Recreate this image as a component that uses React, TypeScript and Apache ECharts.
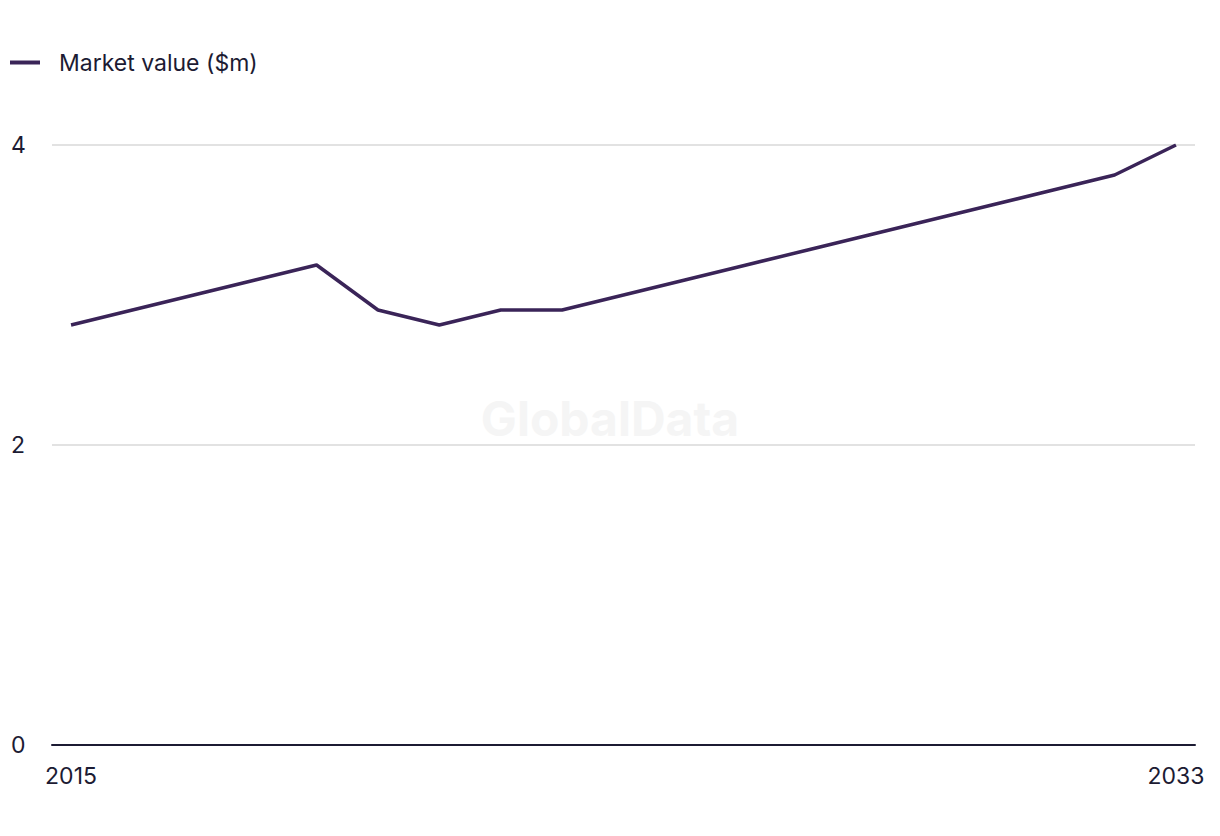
import React, { useEffect, useRef } from "react";
import * as echarts from "echarts";

const years = [2015, 2016, 2017, 2018, 2019, 2020, 2021, 2022, 2023, 2024, 2025, 2026, 2027, 2028, 2029, 2030, 2031, 2032, 2033];
const marketValue = [2.8, 2.9, 3.0, 3.1, 3.2, 2.9, 2.8, 2.9, 2.9, 3.0, 3.1, 3.2, 3.3, 3.4, 3.5, 3.6, 3.7, 3.8, 4.0];
const seriesName = "Market value ($m)";
const xLabelValues = [2015, 2033];
const yTicks = [0, 2, 4];

const FONT = "Inter, 'Liberation Sans', sans-serif";
const TEXT = "#1c1b33";
const LINE = "#3a2458";

export default function App() {
  const ref = useRef<HTMLDivElement>(null);
  useEffect(() => {
    if (!ref.current) return;
    const chart = echarts.init(ref.current, undefined, { renderer: "svg" });
    chart.setOption({
      animation: false,
      backgroundColor: "#ffffff",
      textStyle: { fontFamily: FONT },
      graphic: [
        {
          type: "text",
          left: "center",
          top: 394,
          z: 0,
          style: {
            text: "GlobalData",
            fontFamily: FONT,
            fontSize: 48,
            fontWeight: "bold",
            fill: "#f5f5f5",
          },
        },
      ],
      legend: {
        left: 5,
        top: 46,
        itemWidth: 30,
        itemHeight: 4,
        itemGap: 20,
        icon: "rect",
        textStyle: { color: TEXT, fontSize: 23, fontFamily: FONT, padding: [0, 0, 0, 14] },
        data: [{ name: seriesName, icon: "rect" }],
      },
      grid: { left: 52, right: 25, top: 145, bottom: 91, containLabel: false },
      xAxis: {
        type: "value",
        min: 2014.69,
        max: 2033.31,
        axisLine: { show: true, lineStyle: { color: TEXT, width: 2 } },
        axisTick: { show: false },
        splitLine: { show: false },
        axisLabel: {
          customValues: xLabelValues,
          color: TEXT,
          fontSize: 23,
          fontFamily: FONT,
          margin: 19,
          formatter: (v: number) => String(v),
        },
      },
      yAxis: {
        type: "value",
        min: yTicks[0],
        max: yTicks[yTicks.length - 1],
        interval: 2,
        axisLine: { show: false },
        axisTick: { show: false },
        splitLine: { show: true, lineStyle: { color: "#d9d9d9", width: 1.5 } },
        axisLabel: {
          color: TEXT,
          fontSize: 23,
          fontFamily: FONT,
          align: "left",
          margin: 41,
        },
      },
      series: [
        {
          name: seriesName,
          type: "line",
          data: years.map((y, i) => [y, marketValue[i]]),
          showSymbol: false,
          symbol: "none",
          lineStyle: { color: LINE, width: 3.5 },
          itemStyle: { color: LINE },
          z: 5,
        },
      ],
    });
    return () => chart.dispose();
  }, []);
  return <div ref={ref} style={{ width: 1220, height: 836, margin: -8 }} />;
}
